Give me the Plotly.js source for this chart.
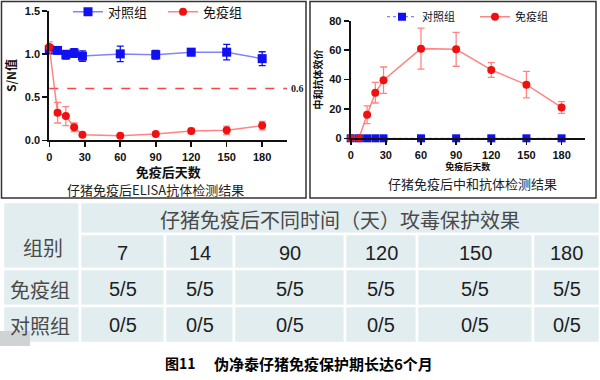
<!DOCTYPE html>
<html>
<head>
<meta charset="utf-8">
<script src="https://cdn.plot.ly/plotly-3.0.1.min.js"></script>
<style>html,body{margin:0;padding:0;background:#fff;}#chart{width:600px;height:380px;}</style>
</head>
<body>
<div id="chart"></div>
<script>
// ---------- data ----------
const days = [0, 7, 14, 21, 28, 60, 90, 120, 150, 180];
const elisaControl = [1.05, 1.04, 0.99, 1.01, 0.975, 1.00, 0.99, 1.02, 1.02, 0.945];
const elisaControlErr = [0.05, 0.02, 0.05, 0.05, 0.06, 0.09, 0.05, 0.04, 0.09, 0.08];
const elisaImmune = [1.08, 0.32, 0.28, 0.15, 0.065, 0.053, 0.073, 0.108, 0.115, 0.17];
const elisaImmuneErr = [0.06, 0.12, 0.11, 0.05, 0.012, 0.01, 0.01, 0.03, 0.05, 0.05];
const elisaCutoff = 0.6;
const neutControl = [0, 0, 0, 0, 0, 0, 0, 0, 0, 0];
const neutImmune = [0, 0, 16, 31, 39.5, 61, 60.5, 46.5, 36.5, 21];
const neutImmuneErr = [0, 0, 6, 7, 9, 14, 11.5, 5, 9, 4];
const dayTicks = [0, 30, 60, 90, 120, 150, 180];
const seriesNames = ['对照组', '免疫组'];

const challengeDays = ['7', '14', '90', '120', '150', '180'];
const immuneProtect = ['5/5', '5/5', '5/5', '5/5', '5/5', '5/5'];
const controlProtect = ['0/5', '0/5', '0/5', '0/5', '0/5', '0/5'];
const tableSpanHeader = '仔猪免疫后不同时间（天）攻毒保护效果';
const tableGroupHeader = '组别';
const tableRowLabels = ['免疫组', '对照组'];
const captionLeft = '仔猪免疫后ELISA抗体检测结果';
const captionRight = '仔猪免疫后中和抗体检测结果';
const figureNo = '图11';
const figureTitle = '伪净泰仔猪免疫保护期长达6个月';

// ---------- helpers (pixel -> paper) ----------
const W = 600, H = 380;
const X = p => p / W;
const Y = p => 1 - p / H;

const BLUE = '#1010f0', BLUE_L = 'rgba(90,90,255,0.75)';
const RED = '#f01010', RED_L = 'rgba(255,110,110,0.85)';
const SANS = 'Liberation Sans, Arial, sans-serif';
const CJK = 'Noto Sans CJK SC, sans-serif';

const traces = [
  { x: days, y: elisaControl, name: seriesNames[0], type: 'scatter', mode: 'lines+markers',
    xaxis: 'x', yaxis: 'y', legend: 'legend', cliponaxis: false,
    line: { color: BLUE_L, width: 1.5 }, marker: { symbol: 'square', size: 9, color: BLUE },
    error_y: { type: 'data', array: elisaControlErr, color: BLUE, thickness: 1.3, width: 3.5 } },
  { x: days, y: elisaImmune, name: seriesNames[1], type: 'scatter', mode: 'lines+markers',
    xaxis: 'x', yaxis: 'y', legend: 'legend', cliponaxis: false,
    line: { color: RED_L, width: 1.5 }, marker: { symbol: 'circle', size: 8, color: RED },
    error_y: { type: 'data', array: elisaImmuneErr, color: RED_L, thickness: 1.3, width: 3.5 } },
  { x: days, y: neutControl, name: seriesNames[0], type: 'scatter', mode: 'lines+markers',
    xaxis: 'x2', yaxis: 'y2', legend: 'legend2', cliponaxis: false,
    line: { color: BLUE_L, width: 1.2, dash: 'dot' }, marker: { symbol: 'square', size: 8, color: BLUE } },
  { x: days, y: neutImmune, name: seriesNames[1], type: 'scatter', mode: 'lines+markers',
    xaxis: 'x2', yaxis: 'y2', legend: 'legend2', cliponaxis: false,
    line: { color: RED_L, width: 1.5 }, marker: { symbol: 'circle', size: 8, color: RED },
    error_y: { type: 'data', array: neutImmuneErr, color: RED_L, thickness: 1.3, width: 3.5 } }
];

const axisCommon = {
  showline: true, linecolor: '#111', linewidth: 2, ticks: 'outside', ticklen: 5,
  tickwidth: 1.6, tickcolor: '#111', showgrid: false, zeroline: false, fixedrange: true, automargin: false,
  tickfont: { family: SANS, size: 11, color: '#111', weight: 'bold' }
};

const layout = {
  width: W, height: H, margin: { l: 0, r: 0, t: 0, b: 0, pad: 0, autoexpand: false },
  paper_bgcolor: '#fff', plot_bgcolor: 'rgba(0,0,0,0)',
  xaxis: Object.assign({}, axisCommon, { domain: [X(49.3), X(287)], range: [0, 201], anchor: 'y',
    tickvals: dayTicks,
    title: { text: '免疫后天数', font: { family: CJK, size: 13, weight: 'bold', color: '#111' }, standoff: 0 } }),
  yaxis: Object.assign({}, axisCommon, { domain: [Y(140.3), Y(10.7)], range: [0, 1.5], anchor: 'x',
    tickvals: [0, 0.5, 1.0, 1.5], tickformat: '.1f',
    title: { text: 'S/N值', font: { family: CJK, size: 12, weight: 'bold', color: '#111' }, standoff: 6 } }),
  xaxis2: Object.assign({}, axisCommon, { domain: [X(350.7), X(585)], range: [0, 200], anchor: 'y2',
    tickvals: dayTicks,
    title: { text: '免疫后天数', font: { family: CJK, size: 9, weight: 'bold', color: '#111' }, standoff: 2 } }),
  yaxis2: Object.assign({}, axisCommon, { domain: [Y(138.3), Y(20.7)], range: [0, 80], anchor: 'x2',
    tickvals: [0, 20, 40, 60, 80],
    title: { text: '中和抗体效价', font: { family: CJK, size: 10, weight: 'bold', color: '#111' }, standoff: 5 } }),
  legend: { orientation: 'h', x: X(68), y: Y(11.7), xanchor: 'left', yanchor: 'middle',
    entrywidth: 50, entrywidthmode: 'pixels', bgcolor: 'rgba(0,0,0,0)',
    font: { family: CJK, size: 13, color: '#111' } },
  legend2: { orientation: 'h', x: X(382), y: Y(16.7), xanchor: 'left', yanchor: 'middle',
    entrywidth: 48, entrywidthmode: 'pixels', bgcolor: 'rgba(0,0,0,0)',
    font: { family: CJK, size: 11, color: '#111' } },
  shapes: [],
  annotations: []
};

// cutoff line
layout.shapes.push({ type: 'line', xref: 'x domain', yref: 'y', x0: 0, x1: 1, y0: elisaCutoff, y1: elisaCutoff,
  line: { color: 'rgba(240,40,40,0.85)', width: 1.6, dash: 'dash' }, layer: 'below' });
layout.annotations.push({ xref: 'x domain', yref: 'y', x: 1, y: elisaCutoff, xanchor: 'left', yanchor: 'middle',
  xshift: 2, text: String(elisaCutoff), showarrow: false,
  font: { family: 'Liberation Serif, serif', size: 10, weight: 'bold', color: '#222' } });

// panel frames
layout.shapes.push({ type: 'rect', xref: 'paper', yref: 'paper', x0: X(1.5), x1: X(306), y0: Y(198), y1: Y(1.5),
  line: { color: '#333', width: 1.5 }, fillcolor: 'rgba(0,0,0,0)' });
layout.shapes.push({ type: 'rect', xref: 'paper', yref: 'paper', x0: X(310), x1: X(596), y0: Y(198), y1: Y(1.5),
  line: { color: '#333', width: 1.5 }, fillcolor: 'rgba(0,0,0,0)' });

// captions
layout.annotations.push({ xref: 'paper', yref: 'paper', x: X(155), y: Y(189), xanchor: 'center', yanchor: 'middle',
  text: captionLeft, showarrow: false, font: { family: CJK, size: 13, color: '#222' } });
layout.annotations.push({ xref: 'paper', yref: 'paper', x: X(472), y: Y(183), xanchor: 'center', yanchor: 'middle',
  text: captionRight, showarrow: false, font: { family: CJK, size: 13, color: '#222' } });

// ---------- table ----------
const CELL = '#e2edf0', GRIDW = 2.5;
const colEdges = [80, 165, 234, 345, 417, 533, 600];
const tableLeft = 3;
const rowA = [202, 234], rowB = [234, 269], rowC = [269, 306], rowD = [306, 343];
function cell(x0, x1, y0, y1) {
  layout.shapes.push({ type: 'rect', xref: 'paper', yref: 'paper', x0: X(x0), x1: X(x1), y0: Y(y1), y1: Y(y0),
    fillcolor: CELL, line: { color: '#ffffff', width: GRIDW }, layer: 'below' });
}
function txt(x, y, t, font) {
  layout.annotations.push({ xref: 'paper', yref: 'paper', x: X(x), y: Y(y), text: t, showarrow: false,
    xanchor: 'center', yanchor: 'middle', font: font });
}
const cjkFont = { family: CJK, size: 20, color: '#4a4a4a' };
const numFont = { family: SANS, size: 20, color: '#1e1e1e' };
cell(tableLeft, colEdges[0], rowA[0], rowB[1]);
cell(colEdges[0], colEdges[colEdges.length - 1], rowA[0], rowA[1]);
txt((tableLeft + colEdges[0]) / 2 + 1, 247, tableGroupHeader, cjkFont);
txt((colEdges[0] + colEdges[colEdges.length - 1]) / 2, 219, tableSpanHeader, cjkFont);
cell(tableLeft, colEdges[0], rowC[0], rowC[1]);
cell(tableLeft, colEdges[0], rowD[0], rowD[1]);
txt(40, 289, tableRowLabels[0], cjkFont);
txt(40, 325, tableRowLabels[1], cjkFont);
for (let i = 0; i < challengeDays.length; i++) {
  const a = colEdges[i], b = colEdges[i + 1], cx = (a + b) / 2;
  cell(a, b, rowB[0], rowB[1]);
  cell(a, b, rowC[0], rowC[1]);
  cell(a, b, rowD[0], rowD[1]);
  txt(cx, 253, challengeDays[i], numFont);
  txt(cx, 289, immuneProtect[i], numFont);
  txt(cx, 325, controlProtect[i], numFont);
}
// small grey corner artefact
layout.shapes.push({ type: 'rect', xref: 'paper', yref: 'paper', x0: X(0), x1: X(30), y0: Y(346), y1: Y(331),
  fillcolor: '#cfd3d4', line: { width: 0 }, layer: 'below' });

// figure caption
layout.annotations.push({ xref: 'paper', yref: 'paper', x: X(163), y: Y(363), xanchor: 'left', yanchor: 'middle',
  text: '<b>' + figureNo + '</b>', showarrow: false, font: { family: CJK, size: 14, color: '#000' } });
layout.annotations.push({ xref: 'paper', yref: 'paper', x: X(212), y: Y(363), xanchor: 'left', yanchor: 'middle',
  text: '<b>' + figureTitle + '</b>', showarrow: false, font: { family: CJK, size: 15, color: '#000' } });

Plotly.newPlot('chart', traces, layout, { staticPlot: true, displayModeBar: false });
</script>
</body>
</html>
